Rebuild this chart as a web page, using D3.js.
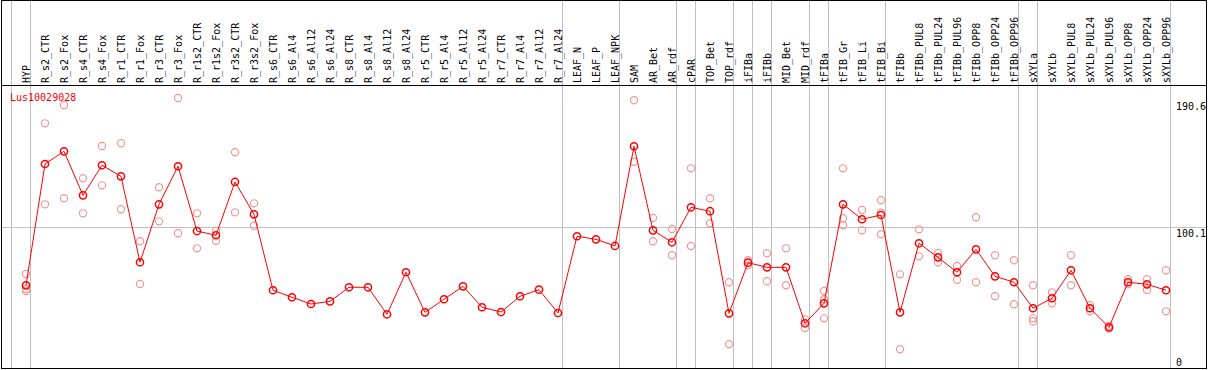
<!DOCTYPE html>
<html>
<head>
<meta charset="utf-8">
<script src="https://cdn.jsdelivr.net/npm/d3@7"></script>
<style>
  html, body { margin: 0; padding: 0; background: #fff; }
  svg { display: block; }
  text { font-family: "DejaVu Sans Mono", "Liberation Mono", monospace; font-size: 10px; }
</style>
</head>
<body>
<svg id="chart" width="1209" height="370"></svg>
<script>
const geneName = "Lus10029028";

const categories = [
  "HYP","R_s2_CTR","R_s2_Fox","R_s4_CTR","R_s4_Fox","R_r1_CTR","R_r1_Fox","R_r3_CTR","R_r3_Fox",
  "R_r1s2_CTR","R_r1s2_Fox","R_r3s2_CTR","R_r3s2_Fox",
  "R_s6_CTR","R_s6_Al4","R_s6_Al12","R_s6_Al24","R_s8_CTR","R_s8_Al4","R_s8_Al12","R_s8_Al24",
  "R_r5_CTR","R_r5_Al4","R_r5_Al12","R_r5_Al24","R_r7_CTR","R_r7_Al4","R_r7_Al12","R_r7_Al24",
  "LEAF_N","LEAF_P","LEAF_NPK","SAM","AR_Bet","AR_rdf","cPAR","TOP_Bet","TOP_rdf",
  "iFIBa","iFIBb","MID_Bet","MID_rdf","tFIBa","tFIB_Gr","tFIB_Li","tFIB_Bi",
  "tFIBb","tFIBb_PUL8","tFIBb_PUL24","tFIBb_PUL96","tFIBb_OPP8","tFIBb_OPP24","tFIBb_OPP96",
  "sXYLa","sXYLb","sXYLb_PUL8","sXYLb_PUL24","sXYLb_PUL96","sXYLb_OPP8","sXYLb_OPP24","sXYLb_OPP96"
];

const meanValues = [
  58.8, 145.1, 154.1, 122.8, 144.2, 136.3, 75.2, 116.4, 143.5,
  97.4, 94.4, 132.3, 109.3,
  55.3, 50.3, 45.5, 47.4, 57.4, 57.4, 38.2, 68.1,
  39.6, 48.9, 58.1, 43.2, 39.8, 51.0, 55.7, 39.1,
  93.7, 91.5, 86.8, 157.7, 97.9, 89.4, 114.3, 111.5, 38.9,
  74.9, 71.6, 71.6, 31.8, 46.0, 116.4, 105.8, 108.8,
  39.6, 88.7, 78.7, 68.1, 84.4, 65.2, 61.0,
  42.5, 49.6, 69.5, 42.5, 28.9, 61.0, 59.5, 55.3
];

const replicateValues = [
  [66.9, 56.2, 54.8], [174.0, 116.4], [187.0, 120.7], [134.9, 110.0], [157.9, 129.9],
  [159.8, 112.9], [90.1, 59.7], [128.5, 104.3], [192.0, 95.8],
  [110.0, 85.1], [97.7, 90.5], [153.4, 110.7], [117.1, 101.2],
  [], [], [], [], [], [], [], [],
  [], [], [], [], [], [], [], [],
  [], [], [], [190.4, 146.7], [106.7, 90.1], [98.9, 80.2], [142.0, 86.8], [120.7, 102.9], [61.0, 16.9],
  [76.6, 73.0], [81.6, 61.7], [85.1, 58.8], [34.6, 28.4], [54.8, 48.9, 35.3], [142.0, 106.5, 101.5],
  [112.4, 97.9], [119.3, 110.5, 95.1],
  [66.6, 13.3], [98.6, 79.4], [81.8, 75.2], [72.5, 62.8], [107.2, 61.0], [80.2, 51.0], [76.6, 45.3],
  [58.8, 35.3, 33.2], [53.8, 46.0], [80.2, 58.8], [44.6, 40.3], [30.0, 28.0], [63.1, 59.5], [63.1, 55.5], [69.5, 40.3]
];

// indices of the last category in each group (vertical separators drawn after them)
const groupEnds = [0, 28, 31, 34, 35, 37, 38, 39, 41, 42, 45, 52, 53, 60];

const yTicks = [0, 100.1, 190.6];
const yGrid = [100.1];

(function () {
  const frameL = 1.5, frameR = 1206.5, frameT = 0.5, headerB = 85.5, frameB = 368.5;

  const svg = d3.select("#chart");

  const x = d3.scalePoint().domain(categories).range([26, 1166]);
  const step = x.step();
  const y = d3.scaleLinear().domain([0, 190.6]).range([368, 100]);

  const grey = "#c0c0c0";

  // vertical separators
  const sepX = [x(categories[0]) - step + 4].concat(groupEnds.map(i => x(categories[i]) + 4));
  svg.append("g").selectAll("line").data(sepX).join("line")
    .attr("x1", d => Math.round(d) + 0.5).attr("x2", d => Math.round(d) + 0.5)
    .attr("y1", frameT).attr("y2", frameB)
    .attr("stroke", grey).attr("stroke-width", 1);

  // horizontal grid
  svg.append("g").selectAll("line").data(yGrid).join("line")
    .attr("x1", frameL).attr("x2", frameR)
    .attr("y1", d => Math.round(y(d)) + 0.5).attr("y2", d => Math.round(y(d)) + 0.5)
    .attr("stroke", grey).attr("stroke-width", 1);

  // frame
  svg.append("rect").attr("x", frameL).attr("y", frameT)
    .attr("width", frameR - frameL).attr("height", frameB - frameT)
    .attr("fill", "none").attr("stroke", "#000").attr("stroke-width", 1);
  svg.append("line").attr("x1", frameL).attr("x2", frameR)
    .attr("y1", headerB).attr("y2", headerB)
    .attr("stroke", "#000").attr("stroke-width", 1);

  // column labels
  svg.append("g").selectAll("text").data(categories).join("text")
    .attr("transform", d => `translate(${x(d) + 3.5},83) rotate(-90)`)
    .attr("text-anchor", "start")
    .attr("fill", "#000")
    .text(d => d);

  // y tick labels
  svg.append("g").selectAll("text").data(yTicks).join("text")
    .attr("x", 1176)
    .attr("y", d => d === 0 ? y(d) - 2 : y(d) + 10)
    .attr("fill", "#000")
    .text(d => d === 0 ? "0" : d.toFixed(1));

  // gene name
  svg.append("text").attr("x", 10).attr("y", 101).attr("fill", "#ff0000").text(geneName);

  // replicates
  const reps = [];
  replicateValues.forEach((arr, i) => arr.forEach(v => reps.push({c: categories[i], v})));
  svg.append("g").selectAll("circle").data(reps).join("circle")
    .attr("cx", d => x(d.c)).attr("cy", d => y(d.v)).attr("r", 3.6)
    .attr("fill", "none").attr("stroke", "#f09898").attr("stroke-width", 1.2);

  // mean line
  const pts = categories.map((c, i) => ({c, v: meanValues[i]}));
  svg.append("path").datum(pts)
    .attr("d", d3.line().x(d => x(d.c)).y(d => y(d.v)))
    .attr("fill", "none").attr("stroke", "#ff0000").attr("stroke-width", 1);

  svg.append("g").selectAll("circle").data(pts).join("circle")
    .attr("cx", d => x(d.c)).attr("cy", d => y(d.v)).attr("r", 3.6)
    .attr("fill", "none").attr("stroke", "#ff0000").attr("stroke-width", 1.5);
})();
</script>
</body>
</html>
